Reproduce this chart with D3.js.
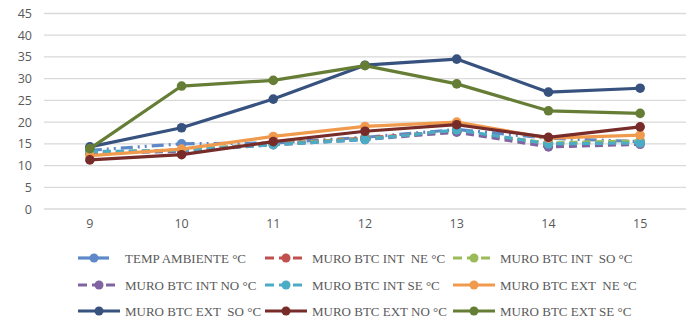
<!DOCTYPE html>
<html>
<head>
<meta charset="utf-8">
<script src="https://cdn.jsdelivr.net/npm/d3@7"></script>
<style>
  html, body { margin: 0; padding: 0; background: #fff; }
  svg { display: block; }
  .legend text { white-space: pre; }
</style>
</head>
<body>
<svg id="chart" width="690" height="324"></svg>
<script>
// Hours of the day (x axis categories)
const hours = ["9", "10", "11", "12", "13", "14", "15"];

// Temperature readings, °C
const tempAmbiente = [13.5, 15.0, 15.2, 16.5, 18.3, 16.3, 15.5];
const intNE = [13.0, 13.5, 15.0, 16.3, 18.0, 15.0, 15.3];
const intSO = [13.0, 13.6, 15.0, 16.2, 17.8, 15.2, 15.7];
const intNO = [12.8, 13.3, 14.8, 16.0, 17.7, 14.3, 14.9];
const intSE = [13.2, 13.5, 14.8, 16.0, 18.2, 15.0, 15.2];
const extNE = [12.3, 13.8, 16.7, 19.0, 20.0, 16.3, 17.0];
const extSO = [14.3, 18.7, 25.3, 33.1, 34.5, 26.9, 27.8];
const extNO = [11.3, 12.5, 15.5, 17.9, 19.4, 16.5, 18.9];
const extSE = [13.9, 28.3, 29.6, 33.0, 28.8, 22.6, 22.0];

// Y axis ticks
const yTicks = [0, 5, 10, 15, 20, 25, 30, 35, 40, 45];

const series = [
  { name: "TEMP AMBIENTE °C",   values: tempAmbiente, color: "#5E88C8", dash: "12,5,2,5,2,5", key: "solid" },
  { name: "MURO BTC INT  NE °C", values: intNE, color: "#C0504D", dash: "8,5", key: "dash" },
  { name: "MURO BTC INT  SO °C", values: intSO, color: "#9BBB59", dash: "8,5", key: "dash" },
  { name: "MURO BTC INT NO °C",  values: intNO, color: "#8064A2", dash: "8,5", key: "dash" },
  { name: "MURO BTC INT SE °C",  values: intSE, color: "#4BACC6", dash: "8,5", key: "dash" },
  { name: "MURO BTC EXT  NE °C", values: extNE, color: "#F09A4E", dash: null, key: "solid" },
  { name: "MURO BTC EXT  SO °C", values: extSO, color: "#37527F", dash: null, key: "solid" },
  { name: "MURO BTC EXT NO °C",  values: extNO, color: "#772C2A", dash: null, key: "solid" },
  { name: "MURO BTC EXT SE °C",  values: extSE, color: "#667D35", dash: null, key: "solid" }
];

const svg = d3.select("#chart");
const plot = { left: 44, right: 686, top: 13.5, bottom: 209 };

const x = d3.scaleBand().domain(hours).range([plot.left, plot.right]);
const y = d3.scaleLinear().domain([0, 45]).range([plot.bottom, plot.top]);

// Horizontal gridlines
svg.append("g")
  .selectAll("line")
  .data(yTicks)
  .join("line")
  .attr("x1", plot.left).attr("x2", plot.right)
  .attr("y1", d => y(d)).attr("y2", d => y(d))
  .attr("stroke", "#D9D9D9").attr("stroke-width", 1.3);

// Y axis labels
const yAxis = svg.append("g")
  .attr("transform", `translate(${plot.left - 12},0)`)
  .call(d3.axisLeft(y).tickValues(yTicks).tickSize(0).tickPadding(0));
yAxis.select(".domain").remove();
yAxis.selectAll("text")
  .attr("fill", "#595959")
  .style("font-family", "'Open Sans', 'Liberation Sans', sans-serif")
  .style("font-size", "12.5px");

// X axis labels
const xAxis = svg.append("g")
  .attr("transform", `translate(0,${plot.bottom + 10})`)
  .call(d3.axisBottom(x).tickSize(0).tickPadding(0));
xAxis.select(".domain").remove();
xAxis.selectAll("text")
  .attr("fill", "#595959")
  .attr("dy", "0.71em")
  .style("font-family", "'Open Sans', 'Liberation Sans', sans-serif")
  .style("font-size", "12.5px");

const cx = h => x(h) + x.bandwidth() / 2;
const line = d3.line()
  .x((d, i) => cx(hours[i]))
  .y(d => y(d));

// Series lines and markers
const gSeries = svg.append("g")
  .selectAll("g")
  .data(series)
  .join("g");

gSeries.append("path")
  .attr("d", d => line(d.values))
  .attr("fill", "none")
  .attr("stroke", d => d.color)
  .attr("stroke-width", 3.2)
  .attr("stroke-linejoin", "round")
  .attr("stroke-dasharray", d => d.dash);

gSeries.each(function (s) {
  d3.select(this).selectAll("circle")
    .data(s.values)
    .join("circle")
    .attr("cx", (d, i) => cx(hours[i]))
    .attr("cy", d => y(d))
    .attr("r", 4.8)
    .attr("fill", s.color);
});

// Legend: three columns, three rows
const legendCols = [78, 265, 453];
const legendRows = [258, 285, 311];
const legend = svg.append("g").attr("class", "legend")
  .selectAll("g")
  .data(series)
  .join("g")
  .attr("transform", (d, i) => `translate(${legendCols[i % 3]},${legendRows[Math.floor(i / 3)]})`);

legend.append("line")
  .attr("x1", 0).attr("x2", (d, i) => (i === 0 ? 31 : 42))
  .attr("y1", 0).attr("y2", 0)
  .attr("stroke", d => d.color)
  .attr("stroke-width", 3.2)
  .attr("stroke-dasharray", d => d.key === "dash" ? "9,5" : null);

legend.append("circle")
  .attr("cx", (d, i) => (i === 0 ? 16 : 21)).attr("cy", 0).attr("r", 4.5)
  .attr("fill", d => d.color);

legend.append("text")
  .attr("x", 47)
  .attr("y", 0)
  .attr("dy", "0.35em")
  .attr("fill", "#595959")
  .style("font-family", "'Liberation Serif', 'DejaVu Serif', serif")
  .style("font-size", "13px")
  .text(d => d.name);
</script>
</body>
</html>
